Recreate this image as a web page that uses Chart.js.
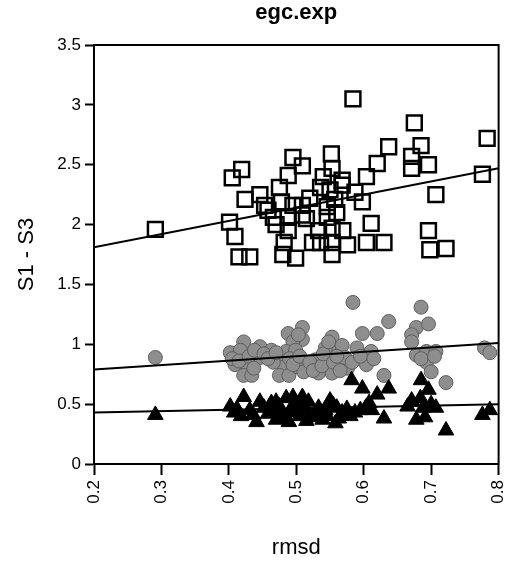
<!DOCTYPE html>
<html>
<head>
<meta charset="utf-8">
<script src="https://cdn.jsdelivr.net/npm/chart.js@4/dist/chart.umd.min.js"></script>
<style>
  body { margin: 0; background: #fff; }
  canvas { display: block; }
</style>
</head>
<body>
<canvas id="chart" width="524" height="563"></canvas>
<script>
// egc.exp — S1 - S3 against rmsd, three groups with their fitted lines

const sqX = [0.584, 0.675, 0.783, 0.637, 0.685, 0.671, 0.696, 0.671, 0.620, 0.552,
    0.553, 0.495, 0.509, 0.419, 0.488, 0.405, 0.604, 0.568, 0.776, 0.707,
    0.424, 0.446, 0.453, 0.475, 0.478, 0.495, 0.509, 0.509, 0.466, 0.488,
    0.488, 0.482, 0.480, 0.499, 0.401, 0.409, 0.415, 0.431, 0.291, 0.536,
    0.550, 0.568, 0.587, 0.557, 0.598, 0.546, 0.546, 0.533, 0.553, 0.569,
    0.524, 0.536, 0.553, 0.576, 0.553, 0.611, 0.604, 0.630, 0.696, 0.698, 0.722,
    0.458, 0.520, 0.540, 0.470, 0.515, 0.560];
const sqY = [3.05, 2.85, 2.72, 2.65, 2.66, 2.57, 2.50, 2.47, 2.51, 2.59,
    2.47, 2.56, 2.49, 2.46, 2.41, 2.39, 2.40, 2.37, 2.42, 2.25,
    2.21, 2.25, 2.16, 2.31, 2.19, 2.16, 2.16, 2.08, 2.06, 2.06,
    1.95, 1.85, 1.75, 1.72, 2.02, 1.90, 1.73, 1.73, 1.96, 2.31,
    2.29, 2.33, 2.27, 2.21, 2.19, 2.15, 2.06, 1.95, 1.97, 1.95,
    1.85, 1.85, 1.85, 1.83, 1.75, 2.01, 1.85, 1.85, 1.95, 1.79, 1.80,
    2.12, 2.22, 2.40, 2.00, 2.05, 2.10];

const circX = [0.584, 0.685, 0.637, 0.598, 0.620, 0.678, 0.696, 0.671, 0.671, 0.488,
    0.509, 0.509, 0.495, 0.553, 0.422, 0.291, 0.402, 0.417, 0.446, 0.463,
    0.409, 0.427, 0.422, 0.434, 0.446, 0.475, 0.485, 0.499, 0.482, 0.475,
    0.489, 0.502, 0.514, 0.528, 0.533, 0.547, 0.553, 0.568, 0.543, 0.562,
    0.553, 0.576, 0.590, 0.606, 0.611, 0.604, 0.630, 0.678, 0.693, 0.707,
    0.693, 0.700, 0.722, 0.779, 0.787, 0.572, 0.511, 0.466,
    0.405, 0.415, 0.430, 0.438, 0.452, 0.458, 0.470, 0.490, 0.495, 0.505,
    0.520, 0.525, 0.538, 0.540, 0.555, 0.560, 0.565, 0.583, 0.595, 0.615,
    0.685, 0.705, 0.503, 0.548, 0.437];
const circY = [1.35, 1.31, 1.19, 1.09, 1.09, 1.14, 1.17, 1.08, 1.02, 1.09,
    1.14, 1.04, 1.02, 1.06, 1.02, 0.89, 0.93, 0.95, 0.98, 0.95,
    0.83, 0.83, 0.74, 0.74, 0.89, 0.89, 0.94, 0.95, 0.81, 0.74,
    0.74, 0.81, 0.83, 0.87, 0.76, 0.87, 0.98, 0.99, 0.97, 0.80,
    0.76, 0.80, 0.97, 0.91, 0.94, 0.83, 0.74, 0.91, 0.94, 0.94,
    0.85, 0.77, 0.68, 0.97, 0.93, 0.89, 0.77, 0.85,
    0.88, 0.86, 0.90, 0.95, 0.92, 0.88, 0.93, 0.88, 0.83, 0.90,
    0.85, 0.78, 0.82, 0.92, 0.85, 0.90, 0.78, 0.85, 0.90, 0.88,
    0.88, 0.90, 1.08, 1.02, 0.80];

const triX = [0.291, 0.402, 0.422, 0.408, 0.431, 0.441, 0.446, 0.463, 0.475, 0.485,
    0.495, 0.509, 0.480, 0.489, 0.499, 0.533, 0.550, 0.555, 0.539, 0.558,
    0.568, 0.582, 0.598, 0.608, 0.620, 0.630, 0.637, 0.671, 0.684, 0.685,
    0.696, 0.678, 0.691, 0.707, 0.722, 0.776, 0.787, 0.524, 0.466, 0.587,
    0.412, 0.418, 0.436, 0.452, 0.458, 0.470, 0.478, 0.492, 0.503, 0.505,
    0.515, 0.518, 0.528, 0.543, 0.546, 0.560, 0.563, 0.575, 0.580, 0.595,
    0.603, 0.612, 0.665, 0.688, 0.700, 0.515, 0.470];
const triY = [0.41, 0.48, 0.56, 0.43, 0.45, 0.35, 0.52, 0.51, 0.48, 0.55,
    0.56, 0.56, 0.38, 0.35, 0.43, 0.47, 0.53, 0.49, 0.37, 0.34,
    0.43, 0.70, 0.63, 0.51, 0.58, 0.38, 0.63, 0.53, 0.55, 0.70,
    0.62, 0.37, 0.39, 0.47, 0.28, 0.41, 0.45, 0.39, 0.43, 0.43,
    0.46, 0.40, 0.41, 0.47, 0.42, 0.52, 0.44, 0.46, 0.50, 0.40,
    0.45, 0.52, 0.42, 0.45, 0.40, 0.47, 0.38, 0.46, 0.40, 0.45,
    0.47, 0.45, 0.48, 0.47, 0.50, 0.36, 0.37];

// fitted lines, end points at the x axis limits
const fitX = [0.2, 0.8];
const sqFit = [1.81, 2.47];
const circFit = [0.79, 1.01];
const triFit = [0.43, 0.50];

const xTicks = [0.2, 0.3, 0.4, 0.5, 0.6, 0.7, 0.8];
const yTicks = [0, 0.5, 1, 1.5, 2, 2.5, 3, 3.5];

const pts = (xs, ys) => xs.map((x, i) => ({ x, y: ys[i] }));

const FONT = "'Liberation Sans', Arial, sans-serif";

function fitLine(ys) {
    return {
        type: 'line',
        data: pts(fitX, ys),
        borderColor: '#000',
        borderWidth: 2,
        pointRadius: 0,
        fill: false,
        order: 0,
    };
}

// title centred over the plot area, not the whole canvas
const plotTitle = {
    id: 'plotTitle',
    afterDraw(chart) {
        const { ctx, chartArea } = chart;
        ctx.save();
        ctx.font = 'bold 22px ' + FONT;
        ctx.fillStyle = '#000';
        ctx.textAlign = 'center';
        ctx.textBaseline = 'middle';
        ctx.fillText('egc.exp', (chartArea.left + chartArea.right) / 2, 13);
        ctx.restore();
    },
};

// box round the plot
const frame = {
    id: 'frame',
    afterDatasetsDraw(chart) {
        const { ctx, chartArea: a } = chart;
        ctx.save();
        ctx.strokeStyle = '#000';
        ctx.lineWidth = 2;
        ctx.strokeRect(a.left, a.top, a.right - a.left, a.bottom - a.top);
        ctx.restore();
    },
};

new Chart(document.getElementById('chart'), {
    type: 'scatter',
    data: {
        datasets: [
            {
                data: pts(sqX, sqY),
                pointStyle: 'rect',
                pointRadius: 10.5,
                backgroundColor: 'rgba(255,255,255,0)',
                borderColor: '#000',
                borderWidth: 2.5,
                order: 3,
            },
            {
                data: pts(circX, circY),
                pointStyle: 'circle',
                pointRadius: 7,
                backgroundColor: '#8e8e8e',
                borderColor: '#5e5e5e',
                borderWidth: 1,
                order: 2,
            },
            {
                data: pts(triX, triY),
                pointStyle: 'triangle',
                pointRadius: 9,
                backgroundColor: '#000',
                borderColor: '#000',
                borderWidth: 1,
                order: 1,
            },
            fitLine(sqFit),
            fitLine(circFit),
            fitLine(triFit),
        ],
    },
    options: {
        responsive: false,
        animation: false,
        layout: { padding: { left: 14, right: 17, top: 45, bottom: 0 } },
        plugins: {
            legend: { display: false },
            tooltip: { enabled: false },
        },
        scales: {
            x: {
                type: 'linear',
                min: 0.2,
                max: 0.8,
                afterBuildTicks: s => { s.ticks = xTicks.map(v => ({ value: v })); },
                afterFit: s => { s.height = 99; },
                border: { display: true, color: '#000', width: 2 },
                grid: { drawOnChartArea: false, drawTicks: true, tickLength: 11, tickColor: '#000', tickWidth: 2 },
                ticks: {
                    color: '#000',
                    font: { family: FONT, size: 17 },
                    minRotation: 90,
                    maxRotation: 90,
                    padding: 5,
                    callback: v => v.toFixed(1),
                },
                title: {
                    display: true,
                    text: 'rmsd',
                    color: '#000',
                    font: { family: FONT, size: 22 },
                    padding: { top: 0, bottom: 2 },
                },
            },
            y: {
                type: 'linear',
                min: 0,
                max: 3.5,
                afterBuildTicks: s => { s.ticks = yTicks.map(v => ({ value: v })); },
                afterFit: s => { s.width = 80; },
                border: { display: true, color: '#000', width: 2 },
                grid: { drawOnChartArea: false, drawTicks: true, tickLength: 9, tickColor: '#000', tickWidth: 2 },
                ticks: {
                    color: '#000',
                    font: { family: FONT, size: 17 },
                    padding: 4,
                    callback: v => String(v),
                },
                title: {
                    display: true,
                    text: 'S1 - S3',
                    color: '#000',
                    font: { family: FONT, size: 22 },
                    padding: 0,
                },
            },
        },
    },
    plugins: [plotTitle, frame],
});
</script>
</body>
</html>
